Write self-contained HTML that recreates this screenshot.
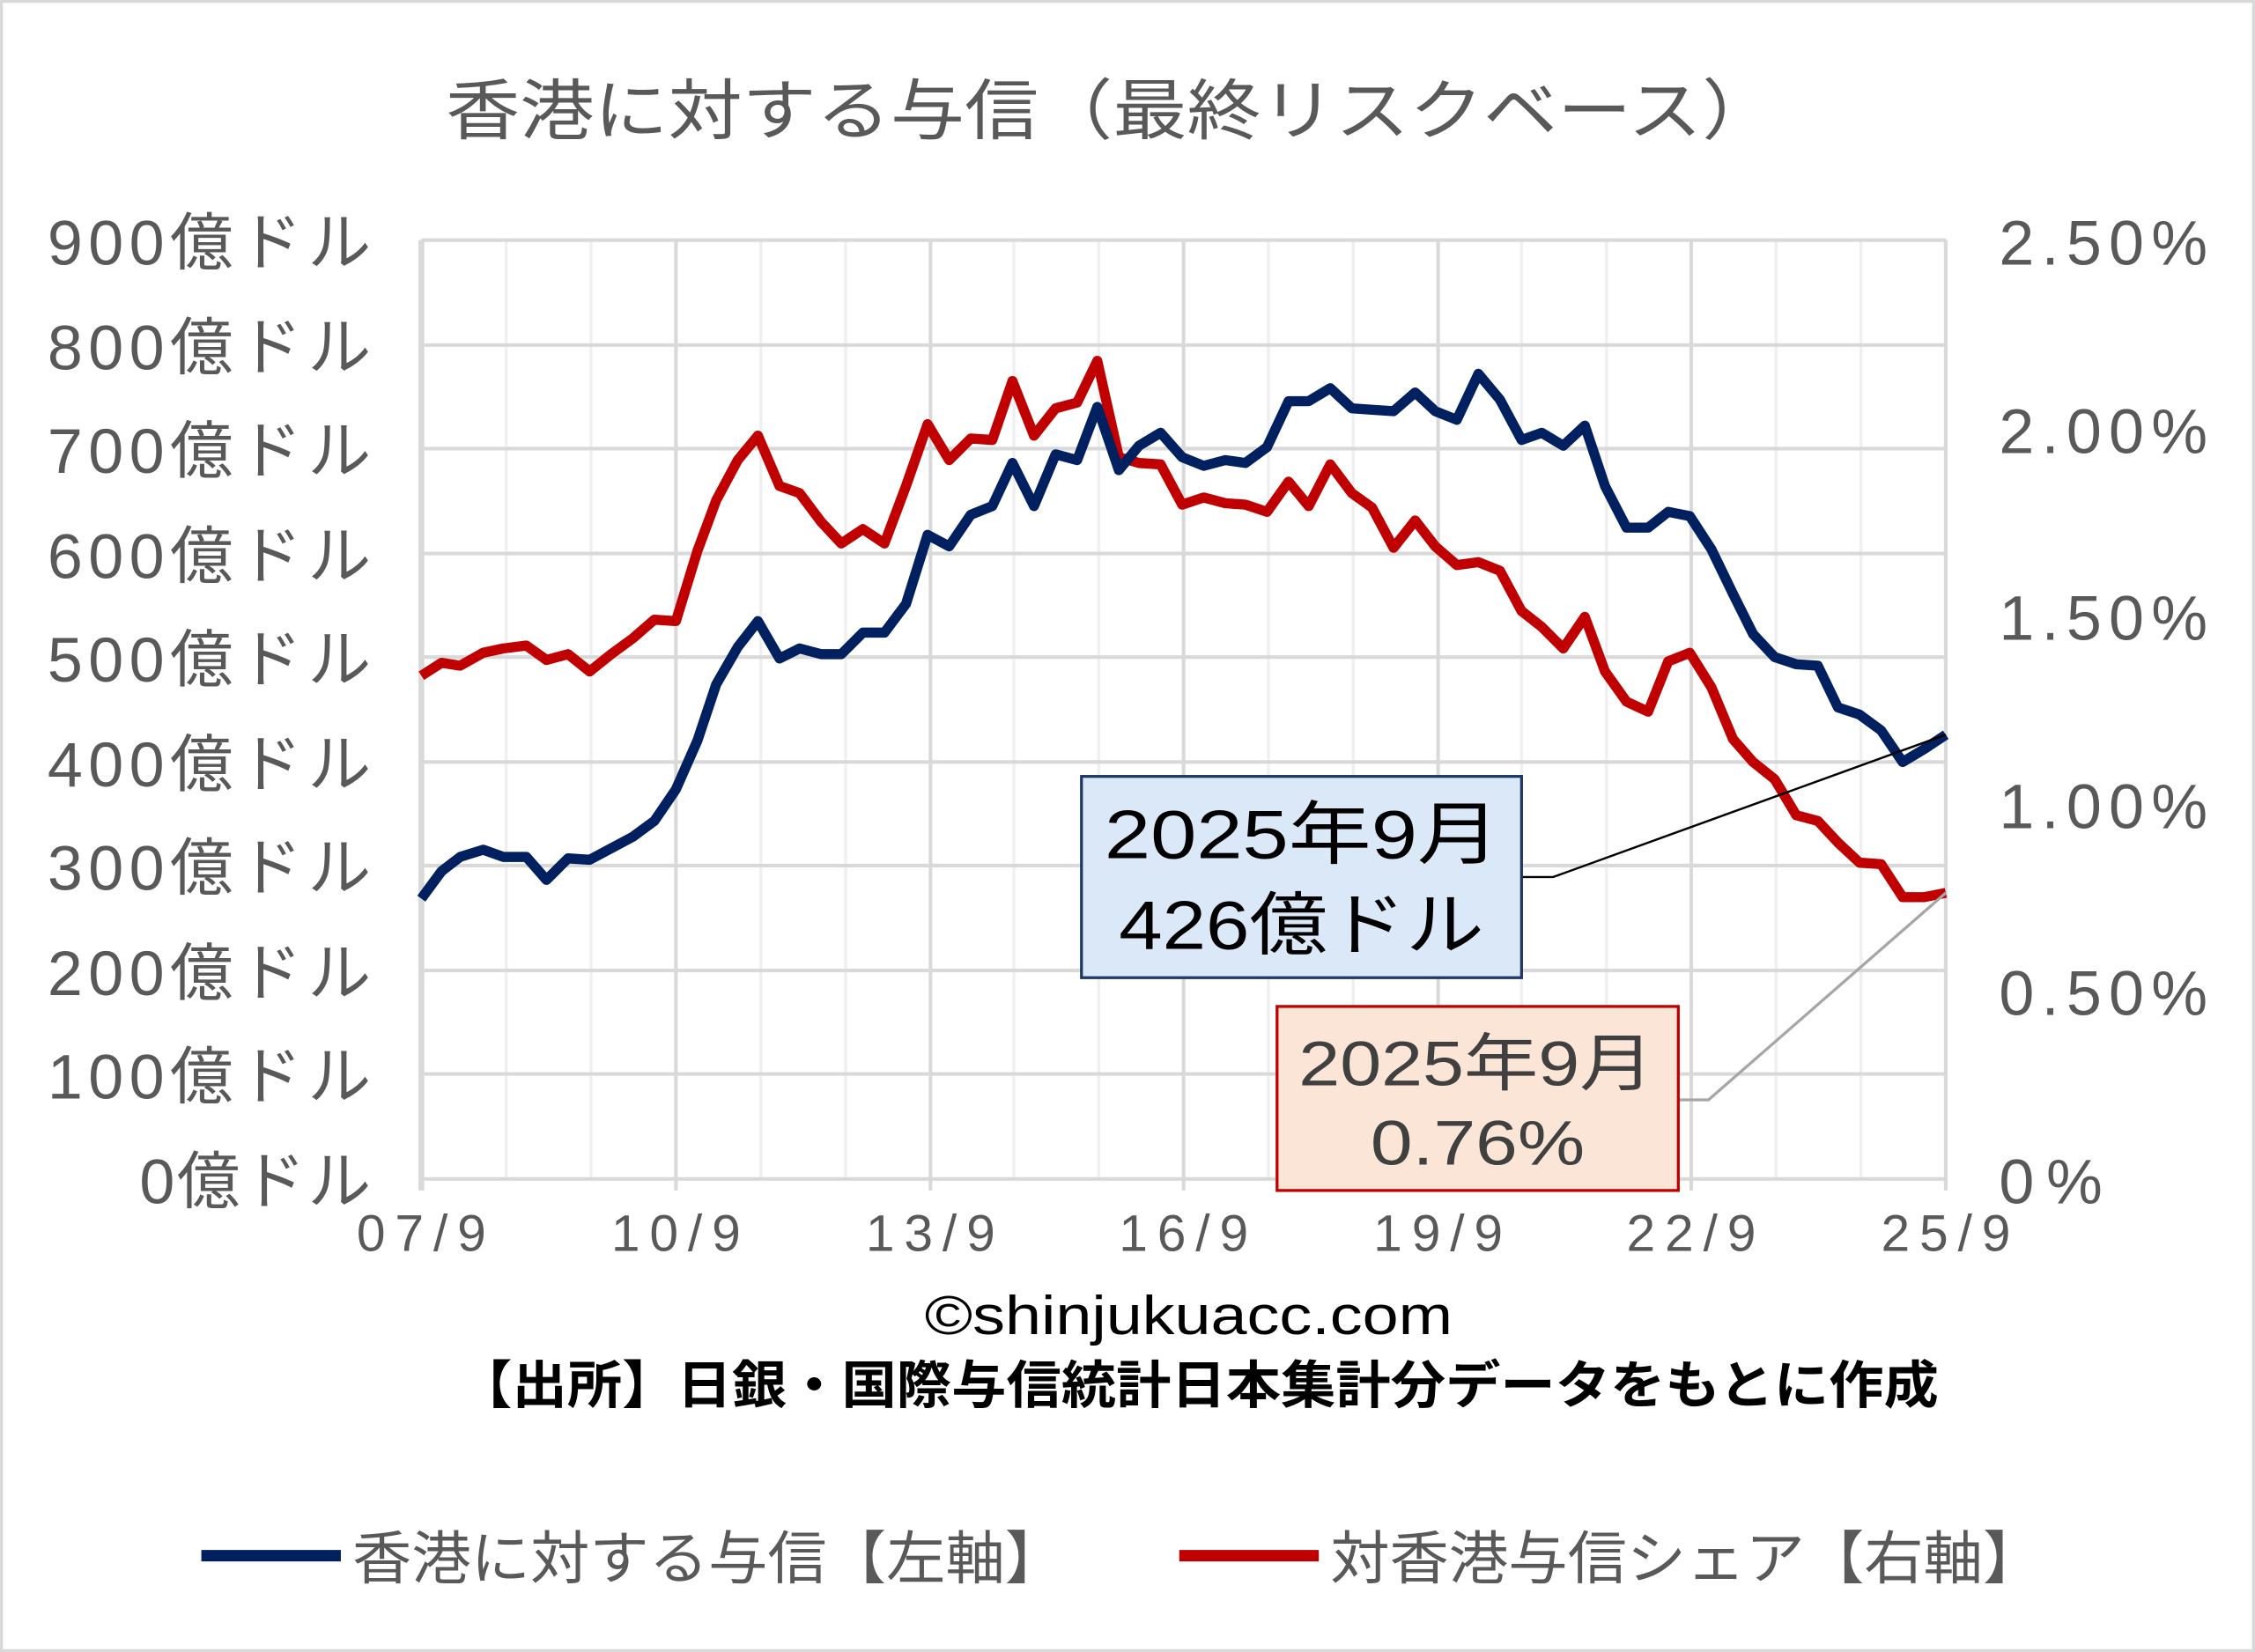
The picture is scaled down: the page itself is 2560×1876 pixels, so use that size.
<!DOCTYPE html>
<html><head><meta charset="utf-8"><style>
html,body{margin:0;padding:0;background:#fff}
svg{display:block}
text{font-family:"Liberation Sans","Noto Sans CJK JP",sans-serif}
</style></head><body>
<svg width="2560" height="1876" viewBox="0 0 1568 1149" preserveAspectRatio="none" xmlns="http://www.w3.org/2000/svg">
<rect x="1" y="1" width="1566" height="1147" fill="#fff" stroke="#d9d9d9" stroke-width="2"/>
<text x="310" y="93" font-size="46" fill="#595959" textLength="925" lengthAdjust="spacingAndGlyphs">香港に対する与信（最終リスクベース）</text>
<g stroke="#efefef" stroke-width="2">
<line x1="352" y1="167" x2="352" y2="820"/><line x1="411" y1="167" x2="411" y2="820"/>
<line x1="529" y1="167" x2="529" y2="820"/><line x1="588" y1="167" x2="588" y2="820"/>
<line x1="705" y1="167" x2="705" y2="820"/><line x1="764" y1="167" x2="764" y2="820"/>
<line x1="882" y1="167" x2="882" y2="820"/><line x1="941" y1="167" x2="941" y2="820"/>
<line x1="1058" y1="167" x2="1058" y2="820"/><line x1="1117" y1="167" x2="1117" y2="820"/>
<line x1="1235" y1="167" x2="1235" y2="820"/><line x1="1294" y1="167" x2="1294" y2="820"/>
</g>
<g stroke="#d9d9d9" stroke-width="2.5">
<line x1="293" y1="167" x2="1353" y2="167"/><line x1="293" y1="240" x2="1353" y2="240"/>
<line x1="293" y1="312" x2="1353" y2="312"/><line x1="293" y1="385" x2="1353" y2="385"/>
<line x1="293" y1="457" x2="1353" y2="457"/><line x1="293" y1="530" x2="1353" y2="530"/>
<line x1="293" y1="602" x2="1353" y2="602"/><line x1="293" y1="675" x2="1353" y2="675"/>
<line x1="293" y1="747" x2="1353" y2="747"/><line x1="293" y1="820" x2="1353" y2="820"/>
<line x1="470" y1="167" x2="470" y2="828"/><line x1="647" y1="167" x2="647" y2="828"/>
<line x1="823" y1="167" x2="823" y2="828"/><line x1="1000" y1="167" x2="1000" y2="828"/>
<line x1="1176" y1="167" x2="1176" y2="828"/><line x1="1353" y1="167" x2="1353" y2="828"/>
</g>
<line x1="293" y1="167" x2="293" y2="828" stroke="#d9d9d9" stroke-width="4"/>
<g font-size="44" fill="#595959" lengthAdjust="spacingAndGlyphs">
<text x="33" y="184" textLength="225">900億ドル</text><text x="33" y="257" textLength="225">800億ドル</text>
<text x="33" y="329" textLength="225">700億ドル</text><text x="33" y="402" textLength="225">600億ドル</text>
<text x="33" y="474" textLength="225">500億ドル</text><text x="33" y="547" textLength="225">400億ドル</text>
<text x="33" y="619" textLength="225">300億ドル</text><text x="33" y="692" textLength="225">200億ドル</text>
<text x="33" y="764" textLength="225">100億ドル</text><text x="97" y="837" textLength="161">0億ドル</text>
</g>
<g font-size="44" fill="#595959" lengthAdjust="spacingAndGlyphs">
<text x="1390" y="184" textLength="145">2.50%</text><text x="1390" y="315" textLength="145">2.00%</text>
<text x="1390" y="445" textLength="145">1.50%</text><text x="1390" y="576" textLength="145">1.00%</text>
<text x="1390" y="706" textLength="145">0.50%</text><text x="1390" y="837" textLength="72">0%</text>
</g>
<g font-size="36" fill="#595959" lengthAdjust="spacingAndGlyphs">
<text x="248" y="870" textLength="90">07/9</text><text x="425" y="870" textLength="90">10/9</text><text x="602" y="870" textLength="90">13/9</text>
<text x="778" y="870" textLength="90">16/9</text><text x="955" y="870" textLength="90">19/9</text><text x="1131" y="870" textLength="90">22/9</text><text x="1308" y="870" textLength="90">25/9</text>
</g>
<polyline fill="none" stroke="#c00000" stroke-width="7" stroke-linejoin="round" points="293,470 307,461 320,463 336,454 350,451 366,449 380,459 395,455 410,467 425,455 440,444 455,431 470,432 485,383 498,348 513,320 527,303 542,338 556,343 571,363 585,378 600,368 615,378 630,338 645,295 660,320 675,305 690,306 704,265 719,303 734,284 749,280 763,251 778,318 792,322 807,323 822,351 837,346 852,350 866,351 881,356 896,335 910,352 925,323 940,343 954,353 969,381 984,362 998,380 1013,393 1028,391 1043,397 1058,425 1072,436 1087,451 1102,429 1116,467 1131,488 1146,495 1160,460 1175,454 1190,478 1205,514 1219,530 1234,542 1249,567 1264,571 1278,586 1293,600 1308,601 1323,624 1338,624 1353,621"/>
<polyline fill="none" stroke="#002060" stroke-width="7" stroke-linejoin="round" points="293,625 307,606 320,596 336,591 350,596 366,596 380,612 395,597 410,598 425,590 440,582 455,571 470,549 485,515 498,476 513,450 527,432 542,458 556,451 571,455 585,455 600,440 615,440 630,420 645,372 660,380 675,358 690,352 704,322 719,352 734,316 749,320 763,283 778,327 792,310 807,301 822,318 837,324 852,320 866,322 881,311 896,279 910,279 925,270 940,284 954,285 969,286 984,273 998,286 1013,292 1028,260 1043,278 1058,306 1072,301 1087,310 1102,296 1116,338 1131,367 1146,367 1160,356 1175,359 1190,382 1205,413 1219,441 1234,457 1249,462 1264,463 1278,492 1293,497 1308,508 1323,530 1338,521 1353,511"/>
<polyline fill="none" stroke="#000" stroke-width="1.5" points="1058,610 1080,610 1353,511"/>
<polyline fill="none" stroke="#a6a6a6" stroke-width="2" points="1167,765 1188,765 1353,621"/>
<rect x="752" y="540" width="306" height="140" fill="#dae8f7" stroke="#1f3864" stroke-width="2"/>
<text x="768" y="597" font-size="48" fill="#000" textLength="275" lengthAdjust="spacingAndGlyphs">2025年9月</text>
<text x="778" y="660" font-size="48" fill="#000" textLength="254" lengthAdjust="spacingAndGlyphs">426億ドル</text>
<rect x="888" y="700" width="279" height="128" fill="#fbe5d6" stroke="#c00000" stroke-width="2"/>
<text x="903" y="755" font-size="44" fill="#404040" textLength="247" lengthAdjust="spacingAndGlyphs">2025年9月</text>
<text x="953" y="810" font-size="44" fill="#404040" textLength="149" lengthAdjust="spacingAndGlyphs">0.76%</text>
<text x="643" y="928" font-size="38" fill="#000" textLength="367" lengthAdjust="spacingAndGlyphs">©shinjukuacc.com</text>
<text x="318" y="976" font-size="36" font-weight="bold" fill="#000" textLength="1030" lengthAdjust="spacingAndGlyphs">【出所】日銀・国際与信統計日本集計分データをもとに作成</text>
<line x1="140" y1="1082" x2="237" y2="1082" stroke="#002060" stroke-width="8"/>
<text x="245" y="1098" font-size="40" fill="#595959" textLength="495" lengthAdjust="spacingAndGlyphs">香港に対する与信【左軸】</text>
<line x1="820" y1="1082" x2="917" y2="1082" stroke="#c00000" stroke-width="8"/>
<text x="925" y="1098" font-size="40" fill="#595959" textLength="495" lengthAdjust="spacingAndGlyphs">対香港与信シェア【右軸】</text>
</svg>
</body></html>
